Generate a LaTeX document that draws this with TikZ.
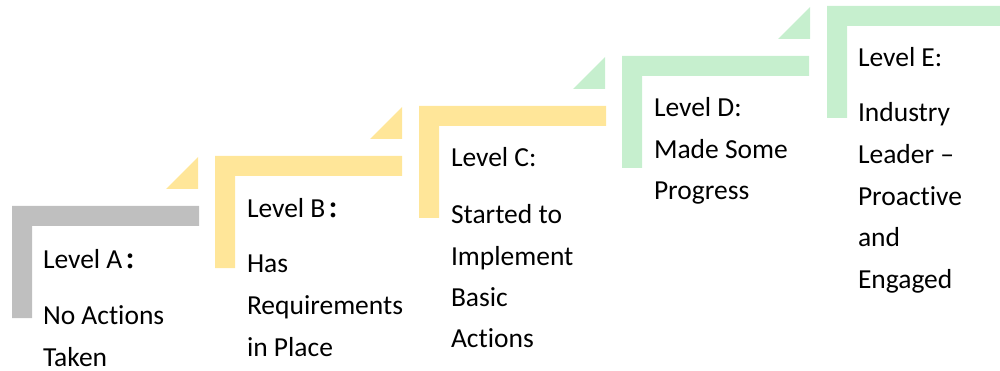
\documentclass[tikz,border=0pt]{standalone}
\usepackage{fontspec}
\setmainfont[Ligatures={NoCommon}]{Carlito}
\newfontfamily\cjkfont{Noto Sans CJK TC}
\definecolor{stepgray}{HTML}{BFBFBF}
\definecolor{stepyellow}{HTML}{FFE699}
\definecolor{stepgreen}{HTML}{C6EFCE}
% full-width colon after a level letter
\newcommand{\fwcolon}{{\cjkfont\bfseries\fontsize{22}{26}\selectfont\kern-3pt\raisebox{-1pt}{：}}}
\begin{document}
\begin{tikzpicture}[x=1pt,y=-1pt,
  txt/.style={anchor=base west,inner sep=0pt,outer sep=0pt,
    font=\fontsize{27.5}{33}\selectfont,text=black}]
\useasboundingbox (0,0) rectangle (1000,371);
% L-shaped step bar: top-left corner (#1,#2), colour #3, length #4
\newcommand{\stepbar}[4]{%
  \fill[#3] (#1,#2) -- ++(#4,0) -- ++(0,20) -- ({#1+20},{#2+20})
    -- ({#1+20},{#2+112}) -- (#1,{#2+112}) -- cycle;}
% small triangle leading into a step whose corner is at (#1,#2)
\newcommand{\steptri}[3]{%
  \fill[#3] ({#1-49},{#2+33}) -- ({#1-17},{#2+33}) -- ({#1-17},{#2+1}) -- cycle;}

\stepbar{12}{206}{stepgray}{187}
\steptri{215}{156}{stepyellow}
\stepbar{215}{156}{stepyellow}{187}
\steptri{419}{106}{stepyellow}
\stepbar{419}{106}{stepyellow}{187}
\steptri{622}{56}{stepgreen}
\stepbar{622}{56}{stepgreen}{187}
\steptri{827}{6}{stepgreen}
\stepbar{827}{6}{stepgreen}{180}

% Level A
\node[txt] (a0) at (43,268) {Level A\fwcolon};
\node[txt] (a1) at (43,324) {No Actions};
\node[txt] (a2) at (43,366) {Taken};
% Level B
\node[txt] (b0) at (247,218) {Level B\fwcolon};
\node[txt] (b1) at (247,272) {Has};
\node[txt] (b2) at (247,314) {Requirements};
\node[txt] (b3) at (247,356) {in Place};
% Level C
\node[txt] (c0) at (451,167) {Level C:};
\node[txt] (c1) at (451,223) {Started to};
\node[txt] (c2) at (451,265) {Implement};
\node[txt] (c3) at (451,306) {Basic};
\node[txt] (c4) at (451,347) {Actions};
% Level D
\node[txt] (d0) at (654,117) {Level D:};
\node[txt] (d1) at (654,159) {Made Some};
\node[txt] (d2) at (654,200) {Progress};
% Level E
\node[txt] (e0) at (858,67) {Level E:};
\node[txt] (e1) at (858,122) {Industry};
\node[txt] (e2) at (858,164) {Leader –};
\node[txt] (e3) at (858,206) {Proactive};
\node[txt] (e4) at (858,247) {and};
\node[txt] (e5) at (858,288) {Engaged};
\end{tikzpicture}
\end{document}
